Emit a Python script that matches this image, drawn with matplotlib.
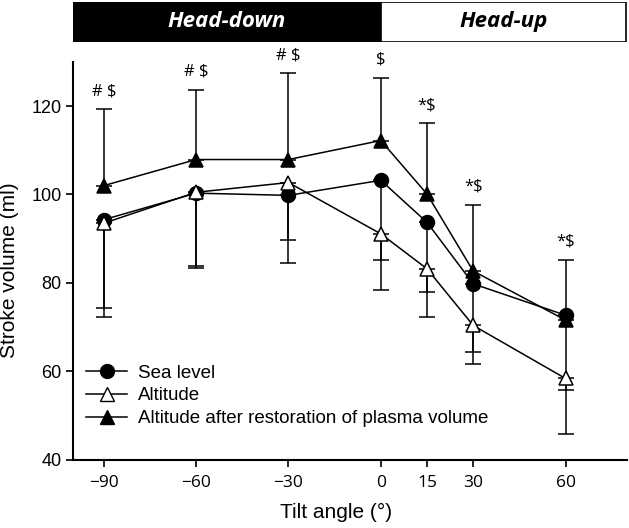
import numpy as np
import matplotlib.pyplot as plt
from matplotlib.patches import Rectangle
from matplotlib.lines import Line2D

# Datos
angulos = [-90, -60, -30, 0, 15, 30, 60]
nivel_mar = [94.3, 100.3, 99.8, 103.2, 93.7, 79.8, 72.7]
altitud = [93.5, 100.5, 102.7, 91.1, 83.2, 70.4, 58.4]
altitud_restaurada = [102.0, 107.9, 107.9, 112.2, 100.1, 82.7, 71.6]

# extremos de las barras de error (una sola dirección)
nivel_mar_inf = [74.3, 83.8, 84.4, 85.1, 78.0, 64.4, 55.8]
altitud_inf = [72.3, 83.4, 89.6, 78.4, 72.2, 61.6, 45.8]
restaurada_sup = [119.3, 123.7, 127.5, 126.4, 116.1, 97.7, 85.3]

marcas = ['# $', '# $', '# $', '$', '*$', '*$', '*$']
etiquetas_x = ['\u221290', '\u221260', '\u221230', '0', '15', '30', '60']

x = np.array(angulos)
sl = np.array(nivel_mar)
al = np.array(altitud)
ar = np.array(altitud_restaurada)

fig = plt.figure(figsize=(6.29, 5.28), dpi=100)
ax = fig.add_axes([0.116, 0.129, 0.881, 0.754])

estilo = dict(color='black', lw=1.1, capsize=6, elinewidth=1.1, capthick=1.1,
              markersize=10, markeredgecolor='black', markeredgewidth=1.1)

ax.errorbar(x, sl, yerr=[sl - np.array(nivel_mar_inf), np.zeros(len(x))],
            fmt='-o', markerfacecolor='black', zorder=3, **estilo)
ax.errorbar(x, al, yerr=[al - np.array(altitud_inf), np.zeros(len(x))],
            fmt='-^', markerfacecolor='white', zorder=4, **estilo)
ax.errorbar(x, ar, yerr=[np.zeros(len(x)), np.array(restaurada_sup) - ar],
            fmt='-^', markerfacecolor='black', zorder=5, **estilo)

for xi, yi, m in zip(x, restaurada_sup, marcas):
    ax.annotate(m, (xi, yi), xytext=(0, 7), textcoords='offset points',
                ha='center', va='bottom', fontsize=12, family='Open Sans')

ax.set_xlim(-100, 80)
ax.set_ylim(40, 130)
ax.set_xticks(angulos)
ax.set_xticklabels(etiquetas_x)
ax.set_yticks([40, 60, 80, 100, 120])
ax.tick_params(direction='out', length=5, width=1.2)
ax.tick_params(axis='x', labelsize=12.5, pad=6)
ax.tick_params(axis='y', labelsize=13, pad=3)
for lab in ax.get_xticklabels():
    lab.set_family('Open Sans')
for lab in ax.get_yticklabels():
    lab.set_family('Liberation Sans')
ax.spines['top'].set_visible(False)
ax.spines['right'].set_visible(False)
ax.spines['left'].set_linewidth(1.5)
ax.spines['bottom'].set_linewidth(1.5)

fig.text(336 / 629, 1 - 512 / 528, 'Tilt angle (°)', fontsize=15,
         family='Liberation Sans', ha='center', va='center')
fig.text(10 / 629, 1 - 270 / 528, 'Stroke volume (ml)', fontsize=15,
         family='Liberation Sans', ha='center', va='center', rotation=90)

handles = [
    Line2D([], [], color='black', lw=1.1, marker='o', markersize=10,
           markerfacecolor='black', markeredgecolor='black'),
    Line2D([], [], color='black', lw=1.1, marker='^', markersize=10,
           markerfacecolor='white', markeredgecolor='black'),
    Line2D([], [], color='black', lw=1.1, marker='^', markersize=10,
           markerfacecolor='black', markeredgecolor='black'),
]
nombres = ['Sea level', 'Altitude', 'Altitude after restoration of plasma volume']
ax.legend(handles, nombres, loc='center left', bbox_to_anchor=(0.0235, 0.161),
          frameon=False, borderpad=0, borderaxespad=0,
          prop={'family': 'Liberation Sans', 'size': 13.5},
          handlelength=2.2, handletextpad=0.55, labelspacing=0.3)

# Barra superior (Head-down / Head-up)
hx = fig.add_axes([0.116, 0.921, 0.881, 0.075])
hx.set_xlim(-100, 80)
hx.set_ylim(0, 1)
hx.axis('off')
hx.add_patch(Rectangle((-100, 0), 100, 1, facecolor='black', edgecolor='black', lw=1.2))
hx.add_patch(Rectangle((0, 0), 79.7, 1, facecolor='white', edgecolor='black', lw=1.2))
hx.text(-50, 0.5, 'Head-down', color='white', ha='center', va='center',
        fontsize=16, fontweight='bold', fontstyle='italic', family='Open Sans')
hx.text(40, 0.5, 'Head-up', color='black', ha='center', va='center',
        fontsize=16, fontweight='bold', fontstyle='italic', family='Open Sans')

fig.savefig('out.png', dpi=100)
